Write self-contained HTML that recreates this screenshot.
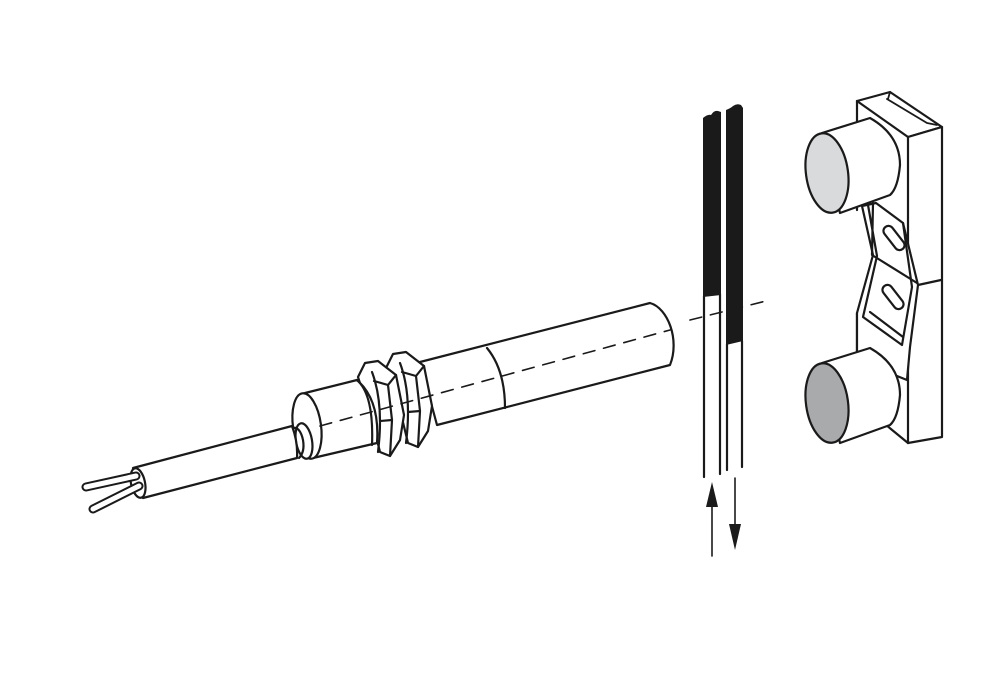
<!DOCTYPE html>
<html><head><meta charset="utf-8"><style>html,body{margin:0;padding:0;background:#fff}svg{display:block}</style></head>
<body>
<svg width="1000" height="691" viewBox="0 0 1000 691" xmlns="http://www.w3.org/2000/svg" fill="none" stroke="#1a1a1a" stroke-width="2.2" stroke-linejoin="round" stroke-linecap="round">
<!-- strips -->
<path d="M703 118 Q708 114 711 115 Q714 110 718 111 L721 112 L721 295 L703 297 Z" fill="#1a1a1a" stroke="none"/>
<path d="M726 110 Q731 108 733 106 Q737 103 741 105 L743 108 L743 341 L726 345 Z" fill="#1a1a1a" stroke="none"/>
<line x1="704" y1="296" x2="704" y2="477"/>
<line x1="720" y1="294" x2="720" y2="474"/>
<line x1="727" y1="344" x2="727" y2="470"/>
<line x1="742" y1="341" x2="742" y2="467"/>
<!-- arrows -->
<line x1="712" y1="556" x2="712" y2="505" stroke-width="1.6"/>
<path d="M712 482 L718 507 L706 507 Z" fill="#1a1a1a" stroke="none"/>
<line x1="735" y1="478" x2="735" y2="527" stroke-width="1.6"/>
<path d="M735 550 L741 524 L729 524 Z" fill="#1a1a1a" stroke="none"/>
<!-- bracket -->
<path d="M857 101 L890 92 L942 127 L908 137 Z" fill="#fff"/>
<path d="M887 99 L927 123 L937 125 M890 92 L888 99" stroke-width="1.8"/>
<path d="M908 137 L942 127 L942 437 L908 443 Z" fill="#fff"/>
<path d="M918 285 L941 280"/>
<path d="M857 101 L857 210 M857 313 L857 400 L880 420 L908 443"/>
<!-- recess -->
<path d="M862 206 L873 255 L857 313 L857 360 L907 380 L910 347 L918 285 L903 223 L876 203 Z" fill="#fff"/>
<path d="M868 205 L877 256 L863 317 L902 345 L912 287 L903 223 M873 203 L872 255 L917 283 M870 312 L903 337"/>
<rect x="-14" y="-5" width="28" height="10" rx="5" transform="translate(894 238) rotate(52)" fill="#fff"/>
<rect x="-14" y="-5" width="28" height="10" rx="5" transform="translate(893 297) rotate(52)" fill="#fff"/>
<!-- top cylinder -->
<path d="M822 133 L870 118 Q900 135 900 165 Q898 188 890 195 L840 213 Z" fill="#fff"/>
<ellipse cx="827" cy="173" rx="21" ry="40" transform="rotate(-8 827 173)" fill="#d9dadb"/>
<!-- bottom cylinder -->
<path d="M822 363 L870 348 Q900 365 900 395 Q898 418 890 425 L840 443 Z" fill="#fff"/>
<ellipse cx="827" cy="403" rx="21" ry="40" transform="rotate(-8 827 403)" fill="#a9aaac"/>
<!-- dashed axis right -->
<path d="M690 320 L770 300" stroke-dasharray="12 9" stroke-width="1.6"/>
<!-- sensor tube -->
<path d="M420 362 L650 303 C668 308 680 340 670 365 L437 425 Z" fill="#fff"/>
<path d="M487 348 Q505 370 505 408"/>
<!-- nut 2 -->
<path d="M386 368 L393 354 L406 352 L424 366 L432 406 L428 431 L418 447 L408 443 L400 410 Z" fill="#fff"/>
<path d="M400 363 Q412 395 406 443 M424 366 L416 376 L420 411 L418 447 M402 372 L416 376 M408 412 L420 411"/>
<!-- nut 1 -->
<path d="M358 377 L365 363 L378 361 L396 375 L404 415 L400 440 L390 456 L380 452 L372 420 Z" fill="#fff"/>
<path d="M372 372 Q384 404 378 452 M396 375 L388 385 L392 420 L390 456 M374 381 L388 385 M380 421 L392 420"/>
<!-- sleeve -->
<path d="M305 393 L357 380 Q380 400 377 443 L313 458 Z" fill="#fff"/>
<path d="M357 380 Q374 395 372 445"/>
<ellipse cx="307" cy="426" rx="14" ry="33" transform="rotate(-8 307 426)" fill="#fff"/>
<ellipse cx="304" cy="441" rx="8" ry="18" transform="rotate(-10 304 441)" fill="#fff"/>
<path d="M292 428 Q300 426 303 440 Q305 452 299 458"/>
<!-- cable -->
<path d="M133 468 L292 426 Q298 442 297 458 L143 498 Z" fill="#fff"/>
<ellipse cx="138" cy="483" rx="7" ry="15" transform="rotate(-12 138 483)" fill="#fff"/>
<line x1="136" y1="476" x2="86" y2="487" stroke-width="9"/>
<line x1="136" y1="476" x2="86" y2="487" stroke="#fff" stroke-width="5"/>
<line x1="139" y1="486" x2="93" y2="509" stroke-width="9"/>
<line x1="139" y1="486" x2="93" y2="509" stroke="#fff" stroke-width="5"/>
<!-- dashed axis through sensor -->
<path d="M320 426 L670 330" stroke-dasharray="12 9" stroke-width="1.6"/>
</svg>
</body></html>
